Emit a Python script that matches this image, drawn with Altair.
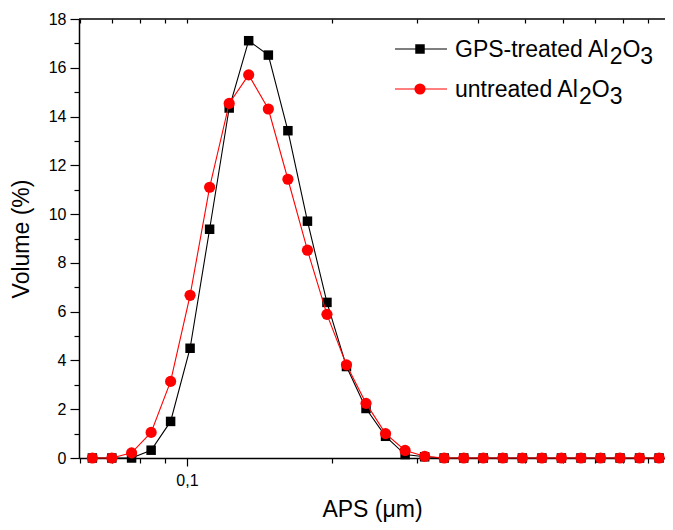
import altair as alt
import pandas as pd

# ---- data ----
aps_um = [0.0637, 0.0699, 0.0768, 0.0843, 0.0925, 0.1015, 0.1114, 0.1223, 0.1342, 0.1474,
          0.1618, 0.1776, 0.1949, 0.2139, 0.2348, 0.2577, 0.2829, 0.3105, 0.3408, 0.3741,
          0.4106, 0.4507, 0.4947, 0.5430, 0.5960, 0.6542, 0.7180, 0.7881, 0.8650, 0.9494]
gps_treated = [0, 0, 0, 0.32, 1.5, 4.5, 9.38, 14.35, 17.11, 16.52,
               13.42, 9.71, 6.38, 3.75, 2.03, 0.89, 0.14, 0.05, 0, 0,
               0, 0, 0, 0, 0, 0, 0, 0, 0, 0]
untreated = [0, 0, 0.21, 1.05, 3.14, 6.67, 11.1, 14.54, 15.71, 14.31,
             11.43, 8.52, 5.89, 3.82, 2.24, 1.0, 0.31, 0.07, 0, 0,
             0, 0, 0, 0, 0, 0, 0, 0, 0, 0]
x_tick_values = [0.06, 0.07, 0.08, 0.09, 0.1, 0.2, 0.3, 0.4, 0.5, 0.6, 0.7, 0.8, 0.9, 1.0]
y_tick_values = list(range(0, 19))
legend_parts = [["GPS-treated Al", "2", "O", "3"], ["untreated Al", "2", "O", "3"]]
series_colors = ["#000000", "#ff0000"]

FONT = "Liberation Sans"
W, H = 586, 439

# Arial/Liberation Sans advance widths (em/1000) for legend layout
ADV = {"G": 778, "P": 667, "S": 667, "-": 333, "t": 278, "r": 333, "e": 556, "a": 556,
       "d": 556, " ": 278, "A": 667, "l": 222, "u": 556, "n": 556, "O": 778, "2": 556, "3": 556}


def text_w(s, size):
    return sum(ADV.get(c, 556) for c in s) / 1000.0 * size


df_gps = pd.DataFrame({"aps": aps_um, "vol": gps_treated})
df_unt = pd.DataFrame({"aps": aps_um, "vol": untreated})

xscale = alt.Scale(type="log", domain=[0.05977, 0.9765], nice=False)
yscale = alt.Scale(domain=[0, 18], nice=False, zero=True)

x_axis = alt.Axis(
    values=x_tick_values,
    labelExpr="datum.value == 0.1 ? '0,1' : (datum.value == 1 ? '1' : '')",
    tickSize={"condition": {"test": "datum.value == 0.1 || datum.value == 1", "value": 8}, "value": 5},
    title="APS (μm)", grid=False, labelFontSize=16, titleFontSize=23,
    labelPadding=6, titlePadding=10, labelFlush=False, labelOverlap=False,
)
y_axis = alt.Axis(
    values=y_tick_values,
    labelExpr="datum.value % 2 == 0 ? datum.label : ''",
    tickSize={"condition": {"test": "datum.value % 2 == 0", "value": 9}, "value": 5},
    title="Volume (%)", grid=False, labelFontSize=16, titleFontSize=23,
    labelPadding=4, titlePadding=15, labelOverlap=False,
)

X = alt.X("aps:Q", scale=xscale, axis=x_axis)
Y = alt.Y("vol:Q", scale=yscale, axis=y_axis)

gps_line = alt.Chart(df_gps).mark_line(color=series_colors[0], strokeWidth=1.1).encode(x=X, y=Y)
gps_pts = alt.Chart(df_gps).mark_point(shape="square", filled=True, size=90, opacity=1,
                                       color=series_colors[0]).encode(x=X, y=Y)
unt_line = alt.Chart(df_unt).mark_line(color=series_colors[1], strokeWidth=1.1).encode(x=X, y=Y)
unt_pts = alt.Chart(df_unt).mark_point(shape="circle", filled=True, size=125, opacity=1,
                                       color=series_colors[1]).encode(x=X, y=Y)

data_layer = alt.layer(gps_line, gps_pts, unt_line, unt_pts)

top_axis = alt.Chart(df_gps).mark_point(opacity=0).encode(
    x=alt.X("aps:Q", scale=xscale,
            axis=alt.Axis(orient="top", values=x_tick_values, labels=False, domain=False,
                          ticks=True, tickSize=4, offset=-4, title=None, grid=False))
)

one = pd.DataFrame({"k": [0]})
top_border = alt.Chart(one).mark_rule(color="black", strokeWidth=1.5).encode(
    x=alt.value(0), x2=alt.value(W), y=alt.value(0))

# ---- manual legend ----
LEG_FS = 23
line_x0, line_x1, marker_x, text_x = 316, 368, 341, 376
row_line_y = [30, 70]
row_base_y = [38, 77.5]
shapes = ["square", "circle"]
sizes = [90, 125]

legend_layers = []
for i in range(2):
    legend_layers.append(
        alt.Chart(one).mark_rule(color=series_colors[i], strokeWidth=1.1).encode(
            x=alt.value(line_x0), x2=alt.value(line_x1), y=alt.value(row_line_y[i]))
    )
    legend_layers.append(
        alt.Chart(one).mark_point(shape=shapes[i], filled=True, size=sizes[i], opacity=1,
                                  color=series_colors[i]).encode(
            x=alt.value(marker_x), y=alt.value(row_line_y[i]))
    )
    xx = text_x
    for j, piece in enumerate(legend_parts[i]):
        dy = 7 if j in (1, 3) else 0
        legend_layers.append(
            alt.Chart(pd.DataFrame({"t": [piece]})).mark_text(
                align="left", baseline="alphabetic", font=FONT, fontSize=LEG_FS, color="black"
            ).encode(x=alt.value(xx), y=alt.value(row_base_y[i] + dy), text="t:N")
        )
        xx += text_w(piece, LEG_FS)

chart = (
    alt.layer(data_layer, top_axis, top_border, *legend_layers)
    .resolve_axis(x="independent")
    .properties(width=W, height=H,
                autosize=alt.AutoSizeParams(type="none"),
                padding={"left": 71, "top": 11, "right": 0, "bottom": 64})
    .configure_view(stroke=None)
    .configure_axis(
        domainColor="black", domainWidth=1.5, tickColor="black", tickWidth=1.2,
        labelColor="black", titleColor="black", labelFont=FONT, titleFont=FONT,
        titleFontWeight="normal",
    )
)

chart.save("out.html", embed_options={"renderer": "svg", "actions": False})
